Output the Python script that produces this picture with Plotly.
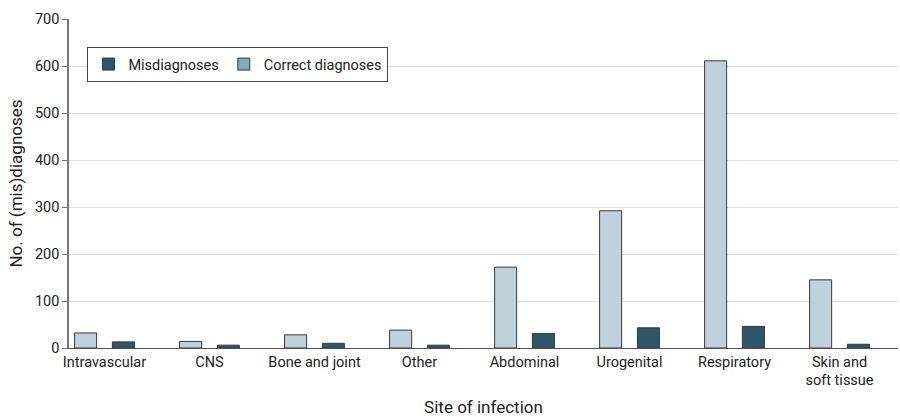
import plotly.graph_objects as go

categories = ["Intravascular", "CNS", "Bone and joint", "Other", "Abdominal",
              "Urogenital", "Respiratory", "Skin and<br>soft tissue"]
correct = [32, 14, 28, 38, 172, 292, 611, 145]
misdiag = [13, 6, 10, 6, 31, 43, 46, 8]
y_ticks = [0, 100, 200, 300, 400, 500, 600, 700]

DARK = "#2f5666"
LIGHT = "#bfd1da"
LIGHT_LEG = "#85a7b6"
EDGE = "#3a3a3a"
FONT = "Roboto, Liberation Sans, Arial, sans-serif"

x = list(range(len(categories)))
fig = go.Figure()
fig.add_trace(go.Bar(x=[i - 0.18 for i in x], y=correct, width=0.21,
                     marker=dict(color=LIGHT, line=dict(color=EDGE, width=1)),
                     showlegend=False, name="Correct diagnoses"))
fig.add_trace(go.Bar(x=[i + 0.18 for i in x], y=misdiag, width=0.21,
                     marker=dict(color=DARK, line=dict(color=EDGE, width=1)),
                     showlegend=False, name="Misdiagnoses"))
fig.add_trace(go.Bar(x=[None], y=[None], name="Misdiagnoses",
                     marker=dict(color=DARK, line=dict(color=EDGE, width=1))))
fig.add_trace(go.Bar(x=[None], y=[None], name="Correct diagnoses",
                     marker=dict(color=LIGHT_LEG, line=dict(color=EDGE, width=1))))

fig.update_layout(
    width=900, height=417,
    margin=dict(l=69, r=2, t=19, b=69),
    plot_bgcolor="white", paper_bgcolor="white",
    font=dict(family=FONT, size=14.5, color="#222"),
    barmode="overlay",
    legend=dict(orientation="h", x=0.022, y=0.915, xanchor="left", yanchor="top",
                bordercolor="#444", borderwidth=1.2, bgcolor="white",
                font=dict(size=14.5), itemwidth=30, traceorder="normal",
                tracegroupgap=0),
    xaxis=dict(tickmode="array", tickvals=x, ticktext=categories,
               range=[-0.338, 7.557], showgrid=False, showline=True,
               linecolor="#555", linewidth=1.2, ticks="", zeroline=False,
               automargin=False,
               title=dict(text="Site of infection", standoff=20)),
    yaxis=dict(range=[0, 700], tickvals=y_ticks, showgrid=True, gridcolor="#dddddd",
               showline=True, linecolor="#777", linewidth=1.5, ticks="outside",
               ticklen=5, tickcolor="#777", zeroline=False, automargin=False,
               title=dict(text="No. of (mis)diagnoses", standoff=8)),
)
fig.write_html("out.html", post_script="document.body.style.margin='0';",
               config={"displayModeBar": False})
